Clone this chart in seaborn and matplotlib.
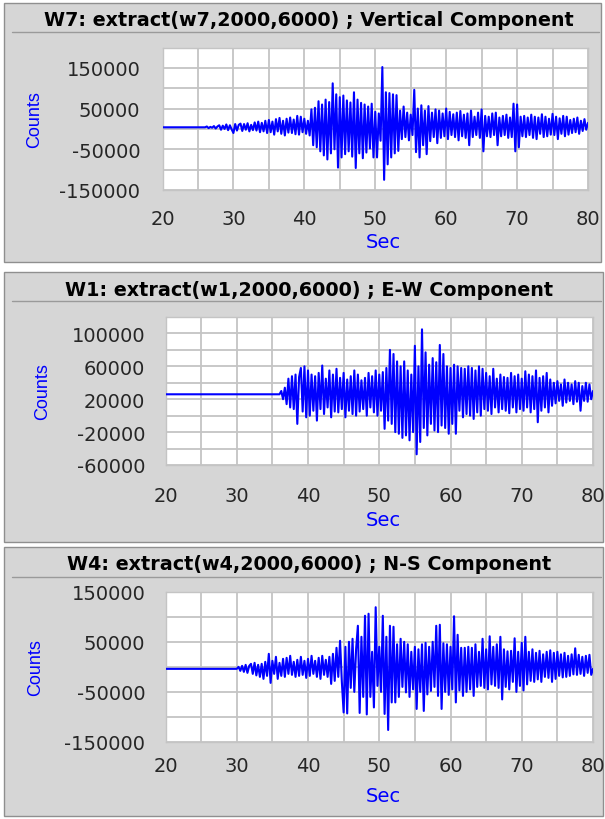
import numpy as np
import pandas as pd
import matplotlib
matplotlib.use("Agg")
import matplotlib.pyplot as plt
from matplotlib.patches import Rectangle
from matplotlib.lines import Line2D
import seaborn as sns

W, H = 605, 820
step = 0.25  # seconds between samples

# W7 - vertical component (thousands of counts), 4 samples per second
w7_onset = 26.0
w7_base = 4
w7_k = [
    4, 6, 2, 5,  # 26 s
    3, 7, 1, 6,
    9, -2, 8, 0,
    11, -3, 9, -1,
    -10, 12, -4, 10,  # 30 s
    13, -5, 12, -2,
    14, -6, 10, -3,
    16, -4, 18, -8,
    15, -6, 20, -10,
    22, -8, 18, -14,  # 35 s
    24, -6, 27, -12,
    20, -16, 25, -9,
    28, -10, 23, -13,
    32, -14, 30, -8,
    25, -12, 20, -16,  # 40 s
    48, -40, 52, -45,
    68, -55, 60, -65,
    72, -75, 66, -60,
    112, -50, 85, -95,
    78, -70, 82, -62,  # 45 s
    70, -55, 65, -68,
    90, -96, 72, -60,
    64, -72, 60, -58,
    55, -48, 62, -70,
    42, -70, 38, -29,  # 50 s
    152, -125, 90, -87,
    88, -70, 85, -60,
    83, -54, 45, -25,
    55, -20, 40, -28,
    35, -15, 96, -57,  # 55 s
    50, -70, 58, -40,
    45, -62, 56, -30,
    40, -20, 48, -35,
    45, -22, 38, -18,
    50, -25, 42, -15,  # 60 s
    36, -20, 40, -28,
    44, -18, 35, -22,
    38, -40, 45, -20,
    30, -15, 40, -22,
    48, -55, 32, -18,  # 65 s
    30, -20, 38, -15,
    40, -40, 28, -18,
    32, -15, 35, -22,
    28, -20, 62, -55,
    60, -45, 30, -18,  # 70 s
    32, -20, 28, -15,
    35, -22, 30, -25,
    28, -12, 36, -20,
    30, -18, 25, -14,
    37, -15, 30, -25,  # 75 s
    26, -12, 32, -18,
    30, -14, 22, -10,
    25, -8, 28, -12,
    20, -5, 24, -2,
    15,  # 80 s
]

# W1 - E-W component
w1_onset = 36.0
w1_base = 26
w1_k = [
    26, 30, 20, 34,  # 36 s
    14, 45, 10, 48,
    8, 50, -10, 47,
    58, 5, 60, -2,
    55, 0, 50, 6,  # 40 s
    48, -6, 52, 8,
    61, 2, 45, 10,
    55, -2, 50, 5,
    57, 4, 46, 8,
    52, -2, 44, 6,  # 45 s
    48, 2, 55, 0,
    50, 5, 43, 8,
    46, 0, 52, 10,
    48, 4, 55, 0,
    50, 6, 53, -16,  # 50 s
    58, -6, 80, -10,
    75, -20, 66, -22,
    60, -27, 66, -24,
    55, -30, 50, -20,
    85, -47, 60, -32,  # 55 s
    105, -15, 77, -24,
    62, -10, 70, -18,
    65, -20, 86, -12,
    75, -15, 60, -22,
    58, -10, 62, -22,  # 60 s
    60, 6, 58, -2,
    57, 2, 60, 0,
    58, -4, 55, 4,
    60, 0, 57, 8,
    52, 6, 48, 2,  # 65 s
    57, 10, 45, 4,
    50, 8, 47, 6,
    46, 3, 52, 10,
    48, 4, 50, 8,
    45, 6, 54, 10,  # 70 s
    50, 4, 48, 8,
    55, -8, 46, 6,
    48, 10, 52, 4,
    44, 12, 40, 15,
    42, 18, 38, 12,  # 75 s
    44, 16, 40, 18,
    38, 14, 42, 17,
    40, 6, 36, 18,
    40, 17, 38, 20,
    30,  # 80 s
]

# W4 - N-S component
w4_onset = 30.0
w4_base = -4
w4_k = [
    -4, 0, -8, 2,  # 30 s
    -10, 4, -12, 2,
    6, -14, 8, -17,
    4, -20, 6, -24,
    10, -18, 26, -32,
    12, -14, 20, -24,  # 35 s
    8, -18, 16, -20,
    18, -14, 22, -16,
    10, -20, 14, -18,
    20, -16, 12, -22,
    16, -18, 22, -14,  # 40 s
    12, -20, 18, -24,
    22, -16, 14, -20,
    20, -34, 26, -28,
    38, -20, 52, -30,
    -91, 40, -93, 50,  # 45 s
    -42, 56, -50, 35,
    82, -92, 60, -60,
    102, -95, 106, -60,
    30, -81, 119, -38,
    40, -50, 102, -94,  # 50 s
    60, -126, 82, -71,
    80, -71, 45, -60,
    56, -40, 50, -51,
    45, -60, 30, -45,
    40, -84, 35, -50,  # 55 s
    45, -88, 48, -55,
    40, -48, 50, -40,
    82, -58, 84, -84,
    47, -50, 45, -56,
    40, -45, 101, -71,  # 60 s
    64, -47, 38, -58,
    38, -50, 40, -45,
    38, -58, 45, -40,
    30, -38, 56, -42,
    35, -45, 61, -35,  # 65 s
    40, -38, 45, -42,
    60, -65, 35, -40,
    31, -45, 32, -30,
    57, -50, 30, -38,
    48, -47, 60, -35,  # 70 s
    30, -28, 35, -30,
    28, -25, 32, -30,
    25, -20, 30, -22,
    33, -30, 28, -24,
    30, -18, 25, -21,  # 75 s
    28, -20, 22, -18,
    25, -15, 37, -16,
    24, -14, 20, -18,
    22, -12, 24, -16,
    -4,  # 80 s
]

titles = [
    "W7: extract(w7,2000,6000) ; Vertical Component",
    "W1: extract(w1,2000,6000) ; E-W Component",
    "W4: extract(w4,2000,6000) ; N-S Component",
]
x_ticks = list(range(20, 81, 5))
x_labels = [str(v) if v % 10 == 0 else "" for v in x_ticks]

w7_yticks = list(range(-150000, 200001, 50000))
w7_ylabels = ["-150000", "", "-50000", "", "50000", "", "150000", ""]
w1_yticks = list(range(-60000, 120001, 20000))
w1_ylabels = ["-60000", "", "-20000", "", "20000", "", "60000", "", "100000", ""]
w4_yticks = list(range(-150000, 150001, 50000))
w4_ylabels = ["-150000", "", "-50000", "", "50000", "", "150000"]


def trace(onset, base, vals):
    t = np.concatenate([[20.0], onset + step * np.arange(len(vals))])
    v = np.concatenate([[base], vals]) * 1000.0
    return pd.DataFrame({"Sec": t, "Counts": v})


def fx(x):
    return x / W


def fy(y):
    return 1 - y / H


sns.set_style("white")
plt.rcParams["axes.unicode_minus"] = False
plt.rcParams["font.family"] = ["DejaVu Sans"]

fig = plt.figure(figsize=(W / 100, H / 100), dpi=100)
fig.patch.set_facecolor("white")

panels = [
    # box, separator y, title y, axes box, data, ylim, yticks, labels, counts x, sec y, xpad, ypad
    ((4, 4, 601, 263), 33, 20, (162.5, 48.5, 588, 191), trace(w7_onset, w7_base, w7_k),
     (-150000, 200000), w7_yticks, w7_ylabels, 35, 242, 8, 10.5),
    ((4, 273, 603, 543), 302, 290, (165.5, 318, 593, 466), trace(w1_onset, w1_base, w1_k),
     (-60000, 120000), w1_yticks, w1_ylabels, 43, 520, 9.5, 9),
    ((4, 548, 603, 817), 578, 565, (165.5, 592.7, 593, 743), trace(w4_onset, w4_base, w4_k),
     (-150000, 150000), w4_yticks, w4_ylabels, 36, 797, 4.5, 9),
]

for i, (box, sep, ty, abox, df, ylim, yt, yl, cx, sy, xpad, ypad) in enumerate(panels):
    x0, y0, x1, y1 = box
    fig.add_artist(Rectangle((fx(x0), fy(y1)), fx(x1 - x0), (y1 - y0) / H,
                             transform=fig.transFigure, facecolor="#d6d6d6",
                             edgecolor="#8f8f8f", lw=1.0, zorder=-2))
    fig.add_artist(Line2D([fx(x0 + 8), fx(x1 - 2)], [fy(sep), fy(sep)],
                          transform=fig.transFigure, color="#9a9a9a", lw=1.0, zorder=-1))
    fig.text(fx(309), fy(ty), titles[i], ha="center", va="center",
             fontsize=13.8, fontweight="bold", color="black")

    ax0, ay0, ax1, ay1 = abox
    ax = fig.add_axes([fx(ax0), fy(ay1), fx(ax1 - ax0), (ay1 - ay0) / H])
    ax.set_facecolor("white")
    sns.lineplot(data=df, x="Sec", y="Counts", ax=ax, color="#0000ff",
                 linewidth=1.5, estimator=None, sort=False, zorder=3)
    ax.set_xlim(20, 80)
    ax.set_ylim(*ylim)
    ax.set_xticks(x_ticks)
    ax.set_xticklabels(x_labels)
    ax.set_yticks(yt)
    ax.set_yticklabels(yl)
    ax.grid(True, color="#c4c4c4", linewidth=1.3, zorder=0)
    ax.set_axisbelow(True)
    for s in ax.spines.values():
        s.set_color("#c4c4c4")
        s.set_linewidth(1.0)
    ax.tick_params(axis="x", direction="out", length=5.5, width=1.2, color="black",
                   labelsize=14, pad=xpad)
    ax.tick_params(axis="y", direction="out", length=5.5, width=1.2, color="black",
                   labelsize=14, pad=ypad)
    ax.set_xlabel("")
    ax.set_ylabel("")
    fig.text(fx(cx), fy((ay0 + ay1) / 2), "Counts", rotation=90, ha="center", va="center",
             fontsize=13, color="#0000ff",
             family=["Liberation Sans Narrow", "Liberation Sans", "DejaVu Sans"])
    fig.text(fx(383), fy(sy), "Sec", ha="center", va="center", fontsize=14, color="#0000ff")

fig.savefig("out.png", dpi=100)
